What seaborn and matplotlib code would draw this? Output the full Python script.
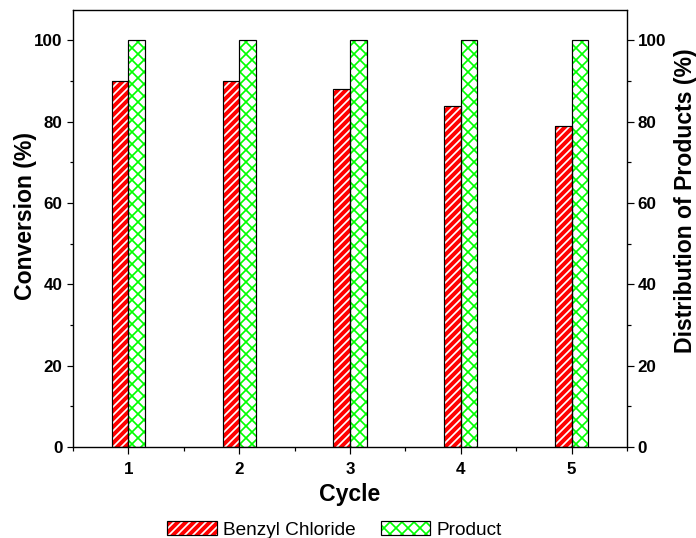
import matplotlib
matplotlib.use("Agg")
import matplotlib.pyplot as plt
import numpy as np
import pandas as pd
import seaborn as sns
from matplotlib.patches import Patch, Rectangle
from matplotlib.ticker import FixedLocator, MultipleLocator
from matplotlib.legend_handler import HandlerTuple

# Recycling results per catalytic cycle
cycles = ["1", "2", "3", "4", "5"]
benzyl_chloride = [90, 90, 88, 84, 79]   # conversion (%)
product = [100, 100, 100, 100, 100]      # product distribution (%)
series = ["Benzyl Chloride", "Product"]
y_ticks = [0, 20, 40, 60, 80, 100]

plt.rcParams["font.family"] = ["Liberation Sans", "DejaVu Sans"]
plt.rcParams["hatch.linewidth"] = 1.7

df = pd.DataFrame({
    "Cycle": cycles * 2,
    "value": benzyl_chloride + product,
    "series": [series[0]] * len(cycles) + [series[1]] * len(cycles),
})

W, H, DPI = 696, 538, 72
fig = plt.figure(figsize=(W / DPI, H / DPI), dpi=DPI)
ax = fig.add_axes([73 / W, 91 / H, 554 / W, 437 / H])

sns.barplot(data=df, x="Cycle", y="value", hue="series", hue_order=series,
            palette=["red", "white"], saturation=1, width=0.3,
            errorbar=None, legend=False, ax=ax)

# face colour, hatch colour, hatch pattern for each series
styles = {
    "Benzyl Chloride": ("red", "white", "///"),
    "Product": ("white", "#00ff00", "xx"),
}


def style_patch(p, fc, hc, hatch):
    p.set_facecolor(fc)
    p.set_edgecolor(hc)
    p.set_hatch(hatch)
    p.set_linewidth(0)


for name, container in zip(series, ax.containers):
    fc, hc, hatch = styles[name]
    for bar in container:
        style_patch(bar, fc, hc, hatch)
        ax.add_patch(Rectangle(bar.get_xy(), bar.get_width(), bar.get_height(),
                               fill=False, edgecolor="black", linewidth=1.2,
                               zorder=bar.get_zorder() + 0.1))

ylim = (0, 107.5)
ax.set_xlim(-0.5, len(cycles) - 0.5)
ax.set_ylim(*ylim)
ax.set_yticks(y_ticks)
ax.yaxis.set_minor_locator(MultipleLocator(10))
ax.xaxis.set_minor_locator(FixedLocator(np.arange(-0.5, len(cycles), 1.0)))

tick_font = dict(fontsize=17, fontweight="bold")
label_font = dict(fontsize=23, fontweight="bold")

ax.set_xlabel("Cycle", labelpad=6, **label_font)
ax.set_ylabel("Conversion (%)", **label_font)
ax.yaxis.set_label_coords(-0.065, 0.529)
for lab in ax.get_xticklabels() + ax.get_yticklabels():
    lab.set_fontsize(17)
    lab.set_fontweight("bold")
ax.tick_params(which="major", direction="out", length=6.5, width=1.2, pad=4)
ax.tick_params(which="minor", direction="out", length=3.5, width=1.2)
ax.tick_params(axis="x", which="major", pad=9)
ax.tick_params(top=False, which="both")

ax2 = ax.twinx()
ax2.set_ylim(*ylim)
ax2.set_yticks(y_ticks)
ax2.yaxis.set_minor_locator(MultipleLocator(10))
ax2.set_yticklabels([str(t) for t in y_ticks], **tick_font)
ax2.set_ylabel("Distribution of Products (%)", **label_font)
ax2.yaxis.set_label_coords(1.084, 0.563)
ax2.tick_params(which="major", direction="out", length=6.5, width=1.2, pad=4)
ax2.tick_params(which="minor", direction="out", length=3.5, width=1.2)

for a in (ax, ax2):
    for s in a.spines.values():
        s.set_linewidth(1.2)
        s.set_color("black")

handles = []
for name in series:
    fc, hc, hatch = styles[name]
    face = Patch()
    style_patch(face, fc, hc, hatch)
    handles.append((face, Patch(fill=False, edgecolor="black", linewidth=1.2)))
fig.legend(handles, series, handler_map={tuple: HandlerTuple(ndivide=1)},
           loc="lower center", bbox_to_anchor=(0.481, -0.026), ncol=2,
           frameon=False, fontsize=19, handlelength=2.6, handleheight=0.8,
           handletextpad=0.35, columnspacing=1.3, borderpad=0.2)

fig.savefig("out.png", dpi=DPI)
